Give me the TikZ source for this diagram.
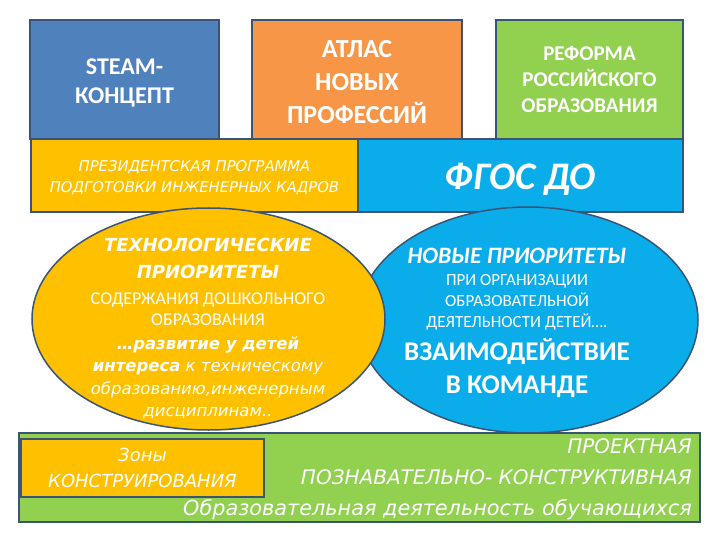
\documentclass[tikz,border=0pt]{standalone}
\usepackage{fontspec}
\setmainfont{Carlito}
\newfontfamily\gothic{DejaVu Sans}
\usetikzlibrary{shapes.geometric}

\definecolor{steamblue}{HTML}{4F81BD}
\definecolor{atlasorange}{HTML}{F79646}
\definecolor{leafgreen}{HTML}{92D050}
\definecolor{sunyellow}{HTML}{FFC000}
\definecolor{skyblue}{HTML}{0AACEA}
\definecolor{edgeblue}{HTML}{3A5475}

\begin{document}
\begin{tikzpicture}[
    x=1pt, y=-1pt,
    box/.style={rectangle, draw=edgeblue, line width=1.5pt, inner sep=0pt, text=white, align=center},
    oval/.style={ellipse, draw=edgeblue, line width=1.5pt, inner sep=0pt},
    caption/.style={text=white, align=center, inner sep=0pt}
]
\useasboundingbox (0,0) rectangle (720,540);

% top row
\node[box, fill=steamblue, minimum width=189pt, minimum height=119pt,
      font=\bfseries\fontsize{24}{29}\selectfont] (steam) at (124.5,79.5) {\rule{0pt}{22pt}STEAM-\\КОНЦЕПТ};
\node[box, fill=atlasorange, minimum width=210pt, minimum height=119pt,
      font=\bfseries\fontsize{26}{33}\selectfont] (atlas) at (357,79.5) {\rule{0pt}{23pt}АТЛАС\\НОВЫХ\\ПРОФЕССИЙ};
\node[box, fill=leafgreen, minimum width=187pt, minimum height=119pt,
      font=\bfseries\fontsize{21}{26}\selectfont] (reform) at (589.5,79.5) {РЕФОРМА\\РОССИЙСКОГО\\ОБРАЗОВАНИЯ};

% second row
\node[box, fill=sunyellow, minimum width=327pt, minimum height=73pt,
      font=\gothic\itshape\fontsize{14.8}{21}\selectfont] (program) at (194.5,175.5)
      {\rule{0pt}{15pt}ПРЕЗИДЕНТСКАЯ ПРОГРАММА\\ПОДГОТОВКИ ИНЖЕНЕРНЫХ КАДРОВ};
\node[box, fill=skyblue, minimum width=325pt, minimum height=73pt,
      font=\bfseries\itshape\fontsize{39}{42}\selectfont] (fgos) at (520.5,175.5) {\rule{0pt}{33pt}ФГОС ДО};

% ovals
\node[oval, fill=skyblue, minimum width=340pt, minimum height=226pt] (neworder) at (528,320) {};
\node[oval, fill=sunyellow, minimum width=353pt, minimum height=222pt] (techorder) at (208.5,319) {};

\node[caption, font=\gothic\bfseries\itshape\fontsize{18}{27}\selectfont] (techhead) at (208,258)
      {ТЕХНОЛОГИЧЕСКИЕ\\ПРИОРИТЕТЫ};
\node[caption, font=\fontsize{18}{21}\selectfont] (techsub) at (208,309)
      {СОДЕРЖАНИЯ ДОШКОЛЬНОГО\\ОБРАЗОВАНИЯ};
\node[caption, font=\gothic\itshape\fontsize{16.5}{22.5}\selectfont] (techgoal) at (208,378)
      {\textbf{…развитие у детей}\\\textbf{интереса} к техническому\\образованию,инженерным\\дисциплинам..};

\node[caption, font=\bfseries\itshape\fontsize{23.5}{25}\selectfont] (newhead) at (517,256) {НОВЫЕ ПРИОРИТЕТЫ};
\node[caption, font=\fontsize{17}{21}\selectfont] (newsub) at (517,302)
      {ПРИ ОРГАНИЗАЦИИ\\ОБРАЗОВАТЕЛЬНОЙ\\ДЕЯТЕЛЬНОСТИ ДЕТЕЙ….};
\node[caption, font=\bfseries\fontsize{27}{33}\selectfont] (team) at (517,368.5)
      {ВЗАИМОДЕЙСТВИЕ\\В КОМАНДЕ};

% bottom band
\node[box, fill=leafgreen, minimum width=681pt, minimum height=89pt] (activity) at (359.5,477.5) {};
\node[box, fill=sunyellow, minimum width=243pt, minimum height=58pt,
      font=\gothic\itshape\fontsize{18}{26}\selectfont] (zones) at (142.5,468) {Зоны\\КОНСТРУИРОВАНИЯ};
\node[caption, align=right, anchor=east, font=\gothic\itshape\fontsize{20}{31}\selectfont] (kinds) at (692,479.5)
      {ПРОЕКТНАЯ\\ПОЗНАВАТЕЛЬНО- КОНСТРУКТИВНАЯ\\{\fontsize{20.8}{31}\selectfont Образовательная деятельность обучающихся}};
\end{tikzpicture}
\end{document}
